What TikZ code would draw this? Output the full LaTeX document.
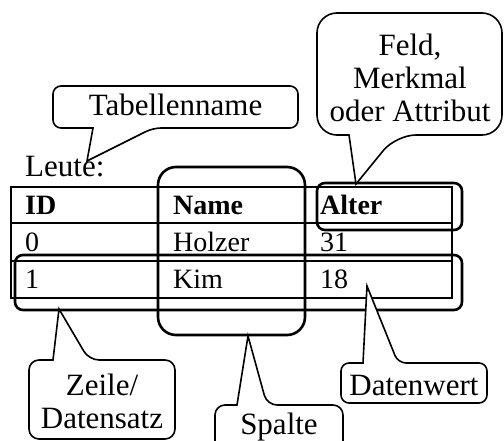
\documentclass[tikz,border=0pt]{standalone}
\usepackage{fontspec}
\setmainfont{Liberation Serif}
\begin{document}
\begin{tikzpicture}[
x=1pt,y=-1pt,
TableLines/.style={draw=black,line width=1.5pt},
MarkBox/.style={draw=black,line width=2.6pt,rounded corners=#1},
CallOut/.style={draw=black,line width=1.6pt,rounded corners=#1},
CellText/.style={anchor=base west,inner sep=0pt,font=\fontsize{28}{32}\selectfont},
HeadText/.style={CellText,font=\fontsize{28}{32}\selectfont\bfseries},
LabelText/.style={anchor=base,inner sep=0pt,align=center,font=\fontsize{31}{33}\selectfont}
]
\useasboundingbox (0,0) rectangle (504,441);
\clip (0,0) rectangle (504,441);

% table
\draw[TableLines] (11,187) rectangle (452,298);
\foreach \y in {223,261} \draw[TableLines] (11,\y) -- (452,\y);
\foreach \x in {158,305} \draw[TableLines] (\x,187) -- (\x,298);

\node[LabelText,anchor=base west] (tname) at (25,177) {Leute:};

\node[HeadText] (hid) at (25,215) {ID};
\node[HeadText] (hname) at (173,215) {Name};
\node[HeadText] (halter) at (320,215) {Alter};
\node[CellText] (ida) at (25,252) {0};
\node[CellText] (namea) at (173,252) {Holzer};
\node[CellText] (altera) at (320,252) {31};
\node[CellText] (idb) at (25,288) {1};
\node[CellText] (nameb) at (173,288) {Kim};
\node[CellText] (alterb) at (320,288) {18};

% marked parts
\draw[MarkBox=18pt] (158,167) rectangle (305,335);
\draw[MarkBox=8pt] (317,183) rectangle (462,230);
\draw[MarkBox=8pt] (15,255) rectangle (462,310);

% tips of the callouts
\coordinate (TipName) at (87,161);
\coordinate (TipField) at (356,184);
\coordinate (TipRow) at (59,309);
\coordinate (TipCol) at (248,336);
\coordinate (TipValue) at (367,286);

% callouts
\draw[CallOut=8pt,fill=white] (93,128) -- (53,128) -- (53,86) -- (298,86) -- (298,128) -- (153,128) [sharp corners] -- (TipName) -- cycle;
\node[LabelText] (lname) at (175.5,116) {Tabellenname};

\draw[CallOut=20pt,fill=white] (349,135) -- (317,135) -- (317,13) -- (502,13) -- (502,135) -- (396,135) [sharp corners] -- (TipField) -- cycle;
\node[LabelText] (lfield) at (410,122) {Feld,\\Merkmal\\oder Attribut};

\draw[CallOut=10pt,fill=white] (53,360) -- (29,360) -- (29,439) -- (175,439) -- (175,360) -- (89,360) [sharp corners] -- (TipRow) -- cycle;
\node[LabelText] (lrow) at (102,428) {Zeile/\\Datensatz};

\draw[CallOut=10pt,fill=white] (237,405) -- (215,405) -- (215,470) -- (343,470) -- (343,405) -- (267,405) [sharp corners] -- (TipCol) -- cycle;
\node[LabelText] (lcol) at (279,434) {Spalte};

\draw[CallOut=8pt,fill=white] (363,363) -- (341,363) -- (341,403) -- (487,403) -- (487,363) -- (398,363) [sharp corners] -- (TipValue) -- cycle;
\node[LabelText] (lvalue) at (414,395) {Datenwert};

\end{tikzpicture}
\end{document}
